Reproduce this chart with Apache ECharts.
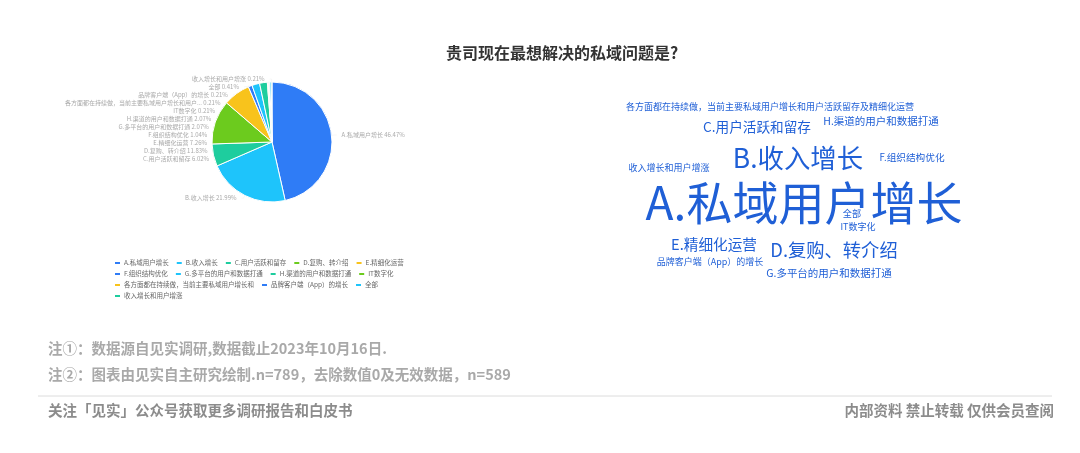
<!DOCTYPE html>
<html>
<head>
<meta charset="utf-8">
<script src="https://cdn.jsdelivr.net/npm/echarts@6/dist/echarts.min.js"></script>
<style>
html,body{margin:0;padding:0;background:#fff;}
#c{width:1080px;height:453px;}
</style>
</head>
<body>
<div id="c"></div>
<script>
// ---- data ----
var categories = [
  'A.私域用户增长',
  'B.收入增长',
  'C.用户活跃和留存',
  'D.复购、转介绍',
  'E.精细化运营',
  'F.组织结构优化',
  'G.多平台的用户和数据打通',
  'H.渠道的用户和数据打通',
  'IT数字化',
  '各方面都在持续做，当前主要私域用户增长和用户活跃留存及精细化运营',
  '品牌客户端（App）的增长',
  '全部',
  '收入增长和用户增涨'
];
var counts = [224, 106, 29, 57, 35, 5, 10, 10, 1, 1, 1, 2, 1];

var titleText = '贵司现在最想解决的私域问题是?';
var note1 = '注①：数据源自见实调研,数据截止2023年10月16日.';
var note2 = '注②：图表由见实自主研究绘制.n=789，去除数值0及无效数据，n=589';
var footLeft = '关注「见实」公众号获取更多调研报告和白皮书';
var footRight = '内部资料 禁止转载 仅供会员查阅';

// ---- layout (word cloud anchor points, not data) ----
var cloudLayout = [
  [804, 203], [798, 158], [757, 127], [834, 250], [714, 244], [912, 157],
  [829, 273], [881, 121], [858, 227], [770, 107], [710, 262], [852, 214], [669, 168]
];

var palette = ['#2f7cf6', '#1ec4fb', '#1ecd9e', '#6ccb1e', '#f8c31c'];
var total = counts.reduce(function (a, b) { return a + b; }, 0);

var pieData = categories.map(function (n, i) { return { name: n, value: counts[i] }; });

// word sizes from counts via linear scale [9, 46]
var minC = Math.min.apply(null, counts), maxC = Math.max.apply(null, counts);
function sizeOf(v) { return 9 + 37 * (v - minC) / (maxC - minC); }

var cloud = categories.map(function (n, i) {
  return {
    type: 'text',
    x: cloudLayout[i][0],
    y: cloudLayout[i][1],
    style: {
      text: n,
      fill: '#1f5fd6',
      fontSize: sizeOf(counts[i]),
      fontFamily: 'Noto Sans CJK SC',
      align: 'center',
      verticalAlign: 'middle'
    }
  };
});

var textFont = 'Noto Sans CJK SC';
var graphics = cloud.concat([
  { type: 'text', left: 48, top: 341, style: { text: note1, fill: '#a9a9a9', fontSize: 14.5, fontWeight: 'bold', fontFamily: textFont } },
  { type: 'text', left: 48, top: 367, style: { text: note2, fill: '#a9a9a9', fontSize: 14.5, fontWeight: 'bold', fontFamily: textFont } },
  { type: 'line', shape: { x1: 38, y1: 396, x2: 1052, y2: 396 }, style: { stroke: '#dcdcdc', lineWidth: 1 } },
  { type: 'text', left: 48, top: 403, style: { text: footLeft, fill: '#8c8c8c', fontSize: 14.5, fontWeight: 'bold', fontFamily: textFont } },
  { type: 'text', right: 26, top: 403, style: { text: footRight, fill: '#8c8c8c', fontSize: 14.5, fontWeight: 'bold', fontFamily: textFont } }
]);

var chart = echarts.init(document.getElementById('c'));
chart.setOption({
  backgroundColor: '#fff',
  color: palette,
  title: {
    text: titleText,
    left: 441,
    top: 40,
    textStyle: { fontSize: 16, fontWeight: 'bold', color: '#333', fontFamily: textFont }
  },
  legend: {
    left: 108,
    top: 254,
    width: 310,
    itemWidth: 7,
    itemHeight: 4,
    itemGap: 3,
    icon: 'roundRect',
    textStyle: { fontSize: 6.5, lineHeight: 8, color: '#666', fontFamily: textFont, padding: [0, 3, 0, -2] },
    formatter: function (n) { return n.length > 20 ? n.slice(0, 20) : n; },
    data: categories
  },
  series: [{
    type: 'pie',
    center: [272, 142],
    radius: [0, 60],
    startAngle: 90,
    clockwise: true,
    itemStyle: { borderColor: '#fff', borderWidth: 1 },
    label: {
      show: true,
      fontSize: 6,
      color: '#aaa',
      fontFamily: textFont,
      formatter: function (p) {
        var n = p.name.length > 20 ? p.name.slice(0, 22) + '...' : p.name;
        return n + ' ' + (p.value / total * 100).toFixed(2) + '%';
      }
    },
    labelLine: { show: true, length: 3, length2: 2, lineStyle: { color: '#eee', width: 0.5 } },
    data: pieData
  }],
  graphic: graphics
});
</script>
</body>
</html>
